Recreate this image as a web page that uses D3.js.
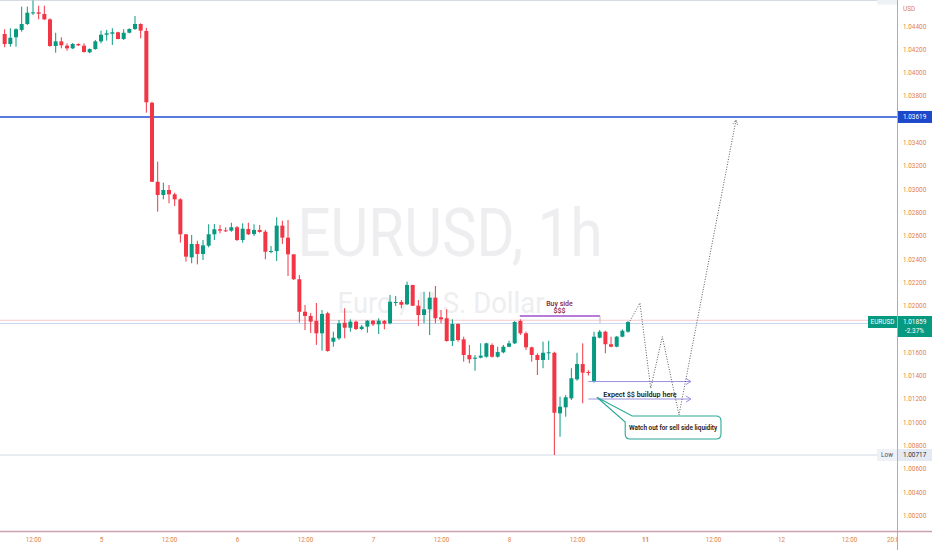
<!DOCTYPE html>
<html><head><meta charset="utf-8">
<script src="https://cdn.jsdelivr.net/npm/d3@7"></script>
<style>html,body{margin:0;padding:0;background:#fff;overflow:hidden}svg{display:block;font-family:Roboto,"Noto Sans",sans-serif}</style>
</head><body>
<svg id="chart" width="932" height="550"></svg>
<script>
// ---------- data (hourly candles, hour index counted from Jul 4 00:00, weekend skipped) ----------
const firstHour = 7;
const opens = [1.04331,1.04245,1.04303,1.04366,1.04417,1.04509,1.04517,1.04503,1.04457,1.04228,
1.04268,1.04231,1.04208,1.04245,1.04231,1.04174,1.04202,1.04268,1.04325,1.04334,
1.04346,1.04288,1.04342,1.04374,1.04417,1.04357,1.03741,1.03063,1.02949,1.02992,
1.02955,1.02912,1.02612,1.02414,1.02529,1.02443,1.02514,1.02612,1.02655,1.02646,
1.02643,1.02672,1.02563,1.02657,1.02614,1.02649,1.02634,1.02462,1.02468,1.02686,
1.02583,1.02440,1.02226,1.01947,1.01911,1.01868,1.01762,1.01934,1.01690,1.01719,
1.01853,1.01810,1.01862,1.01799,1.01819,1.01870,1.01839,1.01868,1.01848,1.02025,
1.02031,1.02011,1.02177,1.01999,1.01919,1.01968,1.02068,1.01899,1.01891,1.01696,
1.01842,1.01710,1.01576,1.01544,1.01553,1.01561,1.01662,1.01561,1.01599,1.01647,
1.01676,1.01868,1.01762,1.01642,1.01576,1.01533,1.01593,1.01595,1.01075,1.01127,
1.01204,1.01367,1.01498,1.01430,1.01347,1.01724,1.01776,1.01668,1.01647,1.01733,1.01776];
const highs = [1.04372,1.04380,1.04380,1.04566,1.04566,1.04619,1.04574,1.04574,1.04466,1.04342,
1.04303,1.04251,1.04254,1.04251,1.04251,1.04208,1.04280,1.04360,1.04366,1.04380,
1.04351,1.04372,1.04380,1.04486,1.04423,1.04385,1.03750,1.03235,1.03055,1.03035,
1.02969,1.02921,1.02612,1.02606,1.02557,1.02563,1.02698,1.02700,1.02692,1.02672,
1.02711,1.02683,1.02706,1.02711,1.02698,1.02692,1.02649,1.02511,1.02758,1.02729,
1.02735,1.02440,1.02262,1.02005,1.01936,1.02022,1.01962,1.01947,1.01776,1.01876,
1.01977,1.01882,1.01870,1.01833,1.01876,1.01876,1.01891,1.01876,1.02091,1.02082,
1.02048,1.02205,1.02177,1.02048,1.02119,1.02119,1.02168,1.01962,1.01968,1.01882,
1.01848,1.01733,1.01662,1.01576,1.01676,1.01681,1.01676,1.01647,1.01662,1.01698,
1.01868,1.01882,1.01776,1.01647,1.01590,1.01690,1.01698,1.01604,1.01218,1.01232,
1.01462,1.01595,1.01676,1.01445,1.01776,1.01790,1.01784,1.01733,1.01739,1.01796,1.01868];
const lows = [1.04217,1.04222,1.04222,1.04351,1.04408,1.04494,1.04457,1.04451,1.04222,1.04171,
1.04208,1.04188,1.04202,1.04228,1.04171,1.04166,1.04196,1.04251,1.04274,1.04237,
1.04286,1.04280,1.04337,1.04366,1.04294,1.03656,1.03060,1.02806,1.02912,1.02878,
1.02855,1.02540,1.02377,1.02363,1.02354,1.02391,1.02500,1.02563,1.02620,1.02632,
1.02634,1.02554,1.02540,1.02606,1.02597,1.02626,1.02397,1.02449,1.02383,1.02529,
1.02254,1.02220,1.01853,1.01790,1.01765,1.01662,1.01613,1.01604,1.01647,1.01704,
1.01719,1.01776,1.01790,1.01790,1.01767,1.01825,1.01756,1.01796,1.01839,1.01996,
1.01977,1.02005,1.01996,1.01825,1.01848,1.01747,1.01848,1.01848,1.01690,1.01653,
1.01690,1.01518,1.01504,1.01441,1.01547,1.01553,1.01553,1.01553,1.01590,1.01642,
1.01670,1.01747,1.01619,1.01518,1.01404,1.01462,1.01533,1.00717,1.00874,1.01046,
1.01189,1.01355,1.01161,1.01400,1.01338,1.01719,1.01590,1.01642,1.01642,1.01728,1.01767];
const closes = [1.04245,1.04299,1.04372,1.04417,1.04514,1.04517,1.04505,1.04457,1.04228,1.04268,
1.04234,1.04208,1.04245,1.04234,1.04177,1.04202,1.04268,1.04325,1.04337,1.04346,
1.04288,1.04342,1.04374,1.04417,1.04360,1.03745,1.03063,1.02949,1.02992,1.02955,
1.02912,1.02612,1.02420,1.02529,1.02443,1.02517,1.02612,1.02655,1.02643,1.02640,
1.02672,1.02563,1.02660,1.02612,1.02649,1.02632,1.02462,1.02468,1.02686,1.02583,
1.02440,1.02226,1.01947,1.01911,1.01862,1.01762,1.01928,1.01610,1.01724,1.01848,
1.01810,1.01862,1.01799,1.01819,1.01870,1.01839,1.01870,1.01844,1.02033,1.02031,
1.02007,1.02177,1.01999,1.01919,1.01968,1.02068,1.01891,1.01882,1.01696,1.01842,
1.01704,1.01576,1.01539,1.01553,1.01570,1.01676,1.01561,1.01601,1.01647,1.01676,
1.01859,1.01762,1.01642,1.01576,1.01533,1.01595,1.01599,1.01080,1.01132,1.01213,
1.01376,1.01498,1.01424,1.01421,1.01733,1.01776,1.01668,1.01647,1.01733,1.01784,1.01859];

const timeTickHours  = [12,24,36,48,60,72,84,96,108,120,132,144,156,164];
const timeTickLabels = ["12:00","5","12:00","6","12:00","7","12:00","8","12:00","11","12:00","12","12:00","20:00"];
const boldTimeLabels = ["11"];
const priceTicks = [1.002,1.004,1.006,1.008,1.010,1.012,1.014,1.016,1.020,1.022,1.024,1.026,1.028,1.030,1.032,1.034,1.038,1.040,1.042,1.044];
const symbol = "EURUSD", interval = "1h", description = "Euro / U.S. Dollar", currency = "USD";
const lastPrice = 1.01859, changeText = "-2.37%";
const keyLevel = 1.03619, lowLevel = 1.00717, highLevel = 1.04619;
const prevCloseLevel = 1.01874, bidLevel = 1.01846;

// annotations (hour index, price)
const buySideRange = [97.9, 112.05], buySideLevel = 1.01911, buySideTickEnd = 1.01850;
const buySideText = ["Buy side", "$$$"], buySideTextPos = [104.9, 1.02015, 1.01954];
const liquidityArrowRange = [110, 128.1], liquidityArrowLevels = [1.01348, 1.01198];
const expectText = "Expect $$ buildup here", expectPos = [119.1, 1.01241];
const projHours  = [117.35, 119.1, 121.0, 123.05, 125.99, 136.05];
const projPrices = [1.01868, 1.02022, 1.01290, 1.01733, 1.01061, 1.03593];
const calloutText = "Watch out for sell side liquidity";
const calloutBox = [116.5, 133.4, 1.01052, 1.00855], calloutTip = [111.5, 1.01213];

// ---------- drawing ----------
const W = 932, H = 550, plotR = 897, plotB = 531;
const svg = d3.select("#chart");
const x = d3.scaleLinear().domain([6.176, 164.46]).range([0, plotR]);
const y = d3.scaleLinear().domain([1.00065, 1.04623]).range([plotB, 0]);
const UP = "#089981", DN = "#f23645", AX = "#e3823f";

svg.append("rect").attr("width", W).attr("height", H).attr("fill", "#fff");
const defs = svg.append("defs");
defs.append("clipPath").attr("id", "plotClip").append("rect").attr("width", plotR).attr("height", plotB);
defs.append("clipPath").attr("id", "timeClip").append("rect").attr("width", plotR).attr("height", H);

const plot = svg.append("g").attr("clip-path", "url(#plotClip)");

// watermark
plot.append("text").attr("x", 450).attr("y", 256).attr("text-anchor", "middle")
  .attr("font-size", 66).attr("fill", "#eeeef0").attr("textLength", 305).attr("lengthAdjust", "spacingAndGlyphs")
  .text(symbol + ", " + interval);
plot.append("text").attr("x", 441).attr("y", 313).attr("text-anchor", "middle")
  .attr("font-size", 29).attr("fill", "#eeeef0").attr("textLength", 207).attr("lengthAdjust", "spacingAndGlyphs")
  .text(description);

// level lines
const hline = (p, color, w) => plot.append("line").attr("x1", 0).attr("x2", plotR)
  .attr("y1", y(p)).attr("y2", y(p)).attr("stroke", color).attr("stroke-width", w);
hline(highLevel, "#d5d9e1", 1);
hline(lowLevel, "#d3dbe8", 1);
hline(prevCloseLevel, "#f8c7cf", 1);
hline(bidLevel, "#c9d8f1", 1);
hline(keyLevel, "#1f4fd0", 1.5);

// candles
const candles = opens.map((o, i) => ({h: firstHour + i, o, hi: highs[i], lo: lows[i], c: closes[i]}));
const cg = plot.append("g");
cg.selectAll("line.wick").data(candles).join("line").attr("class", "wick")
  .attr("x1", d => x(d.h)).attr("x2", d => x(d.h))
  .attr("y1", d => y(d.hi)).attr("y2", d => y(d.lo))
  .attr("stroke", d => d.c >= d.o ? UP : DN).attr("stroke-width", 1);
cg.selectAll("rect.body").data(candles).join("rect").attr("class", "body")
  .attr("x", d => x(d.h) - 2).attr("width", 4)
  .attr("y", d => y(Math.max(d.o, d.c)))
  .attr("height", d => Math.max(1, Math.abs(y(d.o) - y(d.c))))
  .attr("fill", d => d.c >= d.o ? UP : DN);

// annotations
const ann = plot.append("g");
ann.append("line").attr("x1", x(buySideRange[0])).attr("x2", x(buySideRange[1]))
  .attr("y1", y(buySideLevel)).attr("y2", y(buySideLevel)).attr("stroke", "#9c4fc9").attr("stroke-width", 1.5);
ann.append("line").attr("x1", x(buySideRange[1])).attr("x2", x(buySideRange[1]))
  .attr("y1", y(buySideLevel)).attr("y2", y(buySideTickEnd)).attr("stroke", "#b9b9c0").attr("stroke-width", 1);
ann.append("text").attr("x", x(buySideTextPos[0])).attr("y", y(buySideTextPos[1])).attr("dy", "0.35em")
  .attr("text-anchor", "middle").attr("font-size", 7).attr("font-weight", 500).attr("fill", "#8b1e3f").text(buySideText[0]);
ann.append("text").attr("x", x(buySideTextPos[0])).attr("y", y(buySideTextPos[2])).attr("dy", "0.35em")
  .attr("text-anchor", "middle").attr("font-size", 7).attr("font-weight", 600).attr("fill", "#8b1e3f").text(buySideText[1]);

const arrowC = "#9a92de";
liquidityArrowLevels.forEach(p => {
  const x1 = x(liquidityArrowRange[0]), x2 = x(liquidityArrowRange[1]), yy = y(p);
  ann.append("line").attr("x1", x1).attr("x2", x2).attr("y1", yy).attr("y2", yy).attr("stroke", arrowC).attr("stroke-width", 1);
  ann.append("path").attr("d", `M${x2 - 5},${yy - 3}L${x2},${yy}L${x2 - 5},${yy + 3}`)
    .attr("fill", "none").attr("stroke", arrowC).attr("stroke-width", 1);
});
ann.append("text").attr("x", x(expectPos[0])).attr("y", y(expectPos[1])).attr("dy", "0.35em")
  .attr("text-anchor", "middle").attr("font-size", 7.2).attr("font-weight", 600).attr("fill", "#1a1a1a").text(expectText);

// projection path
const projPts = projHours.map((h, i) => [x(h), y(projPrices[i])]);
ann.append("path").attr("d", d3.line()(projPts)).attr("fill", "none")
  .attr("stroke", "#4a4a4a").attr("stroke-width", 0.9).attr("stroke-dasharray", "1,1.6");
{
  const [ax, ay] = projPts[projPts.length - 1], [bx, by] = projPts[projPts.length - 2];
  const ang = Math.atan2(ay - by, ax - bx), L = 5;
  const p1 = [ax - L * Math.cos(ang - 0.5), ay - L * Math.sin(ang - 0.5)];
  const p2 = [ax - L * Math.cos(ang + 0.5), ay - L * Math.sin(ang + 0.5)];
  ann.append("path").attr("d", `M${p1}L${ax},${ay}L${p2}`).attr("fill", "none")
    .attr("stroke", "#4a4a4a").attr("stroke-width", 0.9).attr("stroke-dasharray", "1,1.2");
}

// callout
{
  const bx1 = x(calloutBox[0]), bx2 = x(calloutBox[1]), by1 = y(calloutBox[2]), by2 = y(calloutBox[3]);
  const tx = x(calloutTip[0]), ty = y(calloutTip[1]), r = 5;
  const d = `M${bx1 + 7},${by1} L${bx2 - r},${by1} Q${bx2},${by1} ${bx2},${by1 + r} L${bx2},${by2 - r} Q${bx2},${by2} ${bx2 - r},${by2}
    L${bx1 + r},${by2} Q${bx1},${by2} ${bx1},${by2 - r} L${bx1},${by1 + 6} L${tx},${ty} Z`;
  ann.append("path").attr("d", d).attr("fill", "#fff").attr("stroke", "#2aa89a").attr("stroke-width", 1.1);
  ann.append("text").attr("x", (bx1 + bx2) / 2).attr("y", (by1 + by2) / 2).attr("dy", "0.35em")
    .attr("text-anchor", "middle").attr("font-size", 6.4).attr("font-weight", 600).attr("fill", "#1a1a1a").text(calloutText);
}

// axes lines
svg.append("line").attr("x1", plotR + 0.5).attr("x2", plotR + 0.5).attr("y1", 0).attr("y2", H)
  .attr("stroke", "#c7a1b0").attr("stroke-width", 1);
svg.append("line").attr("x1", 0).attr("x2", W).attr("y1", plotB + 0.5).attr("y2", plotB + 0.5)
  .attr("stroke", "#c9a2b0").attr("stroke-width", 1.4);

// price axis
const yAxis = d3.axisRight(y).tickValues(priceTicks).tickFormat(d3.format(".5f")).tickSize(0).tickPadding(6);
const gy = svg.append("g").attr("transform", `translate(${plotR},0)`).call(yAxis);
gy.select(".domain").remove();
gy.selectAll("text").attr("fill", AX).attr("font-size", 6.4).attr("font-family", "Roboto");
svg.append("text").attr("x", 903).attr("y", 9).attr("dy", "0.35em").attr("font-size", 6.4).attr("fill", AX).text(currency);

// time axis
const xAxis = d3.axisBottom(x).tickValues(timeTickHours).tickFormat((d, i) => timeTickLabels[i]).tickSize(0).tickPadding(7);
const gx = svg.append("g").attr("clip-path", "url(#timeClip)").append("g").attr("transform", `translate(0,${plotB})`).call(xAxis);
gx.select(".domain").remove();
gx.selectAll("text").attr("fill", AX).attr("font-size", 6.3).attr("font-family", "Roboto")
  .attr("font-weight", (d, i) => boldTimeLabels.includes(timeTickLabels[i]) ? 700 : 400);

// price labels on the scale
const lab = svg.append("g").attr("font-size", 6.4);
// key level
lab.append("rect").attr("x", plotR + 1).attr("y", y(keyLevel) - 6).attr("width", 34).attr("height", 12).attr("fill", "#1c48c9");
lab.append("text").attr("x", 903).attr("y", y(keyLevel)).attr("dy", "0.35em").attr("fill", "#fff").text(d3.format(".5f")(keyLevel));
// last price
const ly = y(lastPrice);
lab.append("rect").attr("x", 868).attr("y", ly - 6).attr("width", 29).attr("height", 12).attr("fill", UP);
lab.append("text").attr("x", 882.5).attr("y", ly).attr("dy", "0.35em").attr("text-anchor", "middle").attr("fill", "#fff").text(symbol);
lab.append("rect").attr("x", plotR + 1).attr("y", ly - 6).attr("width", 34).attr("height", 21).attr("fill", UP);
lab.append("text").attr("x", 903).attr("y", ly).attr("dy", "0.35em").attr("fill", "#fff").text(d3.format(".5f")(lastPrice));
lab.append("text").attr("x", 905).attr("y", ly + 9).attr("dy", "0.35em").attr("fill", "#fff").text(changeText);
// low
const lwy = y(lowLevel);
lab.append("rect").attr("x", 877).attr("y", lwy - 6).attr("width", 20).attr("height", 12).attr("fill", "#eef1f6");
lab.append("text").attr("x", 887).attr("y", lwy).attr("dy", "0.35em").attr("text-anchor", "middle").attr("fill", "#50535e").text("Low");
lab.append("rect").attr("x", plotR + 1).attr("y", lwy - 6).attr("width", 34).attr("height", 12).attr("fill", "#e4e9f2");
lab.append("text").attr("x", 903).attr("y", lwy).attr("dy", "0.35em").attr("fill", "#2a2e39").text(d3.format(".5f")(lowLevel));
// high (mostly out of view)
const hy = y(highLevel);
lab.append("rect").attr("x", 877).attr("y", hy - 6).attr("width", 20).attr("height", 10).attr("fill", "#eef1f6");
lab.append("text").attr("x", 887).attr("y", hy - 2).attr("text-anchor", "middle").attr("fill", "#50535e").text("High");
</script>
</body></html>
